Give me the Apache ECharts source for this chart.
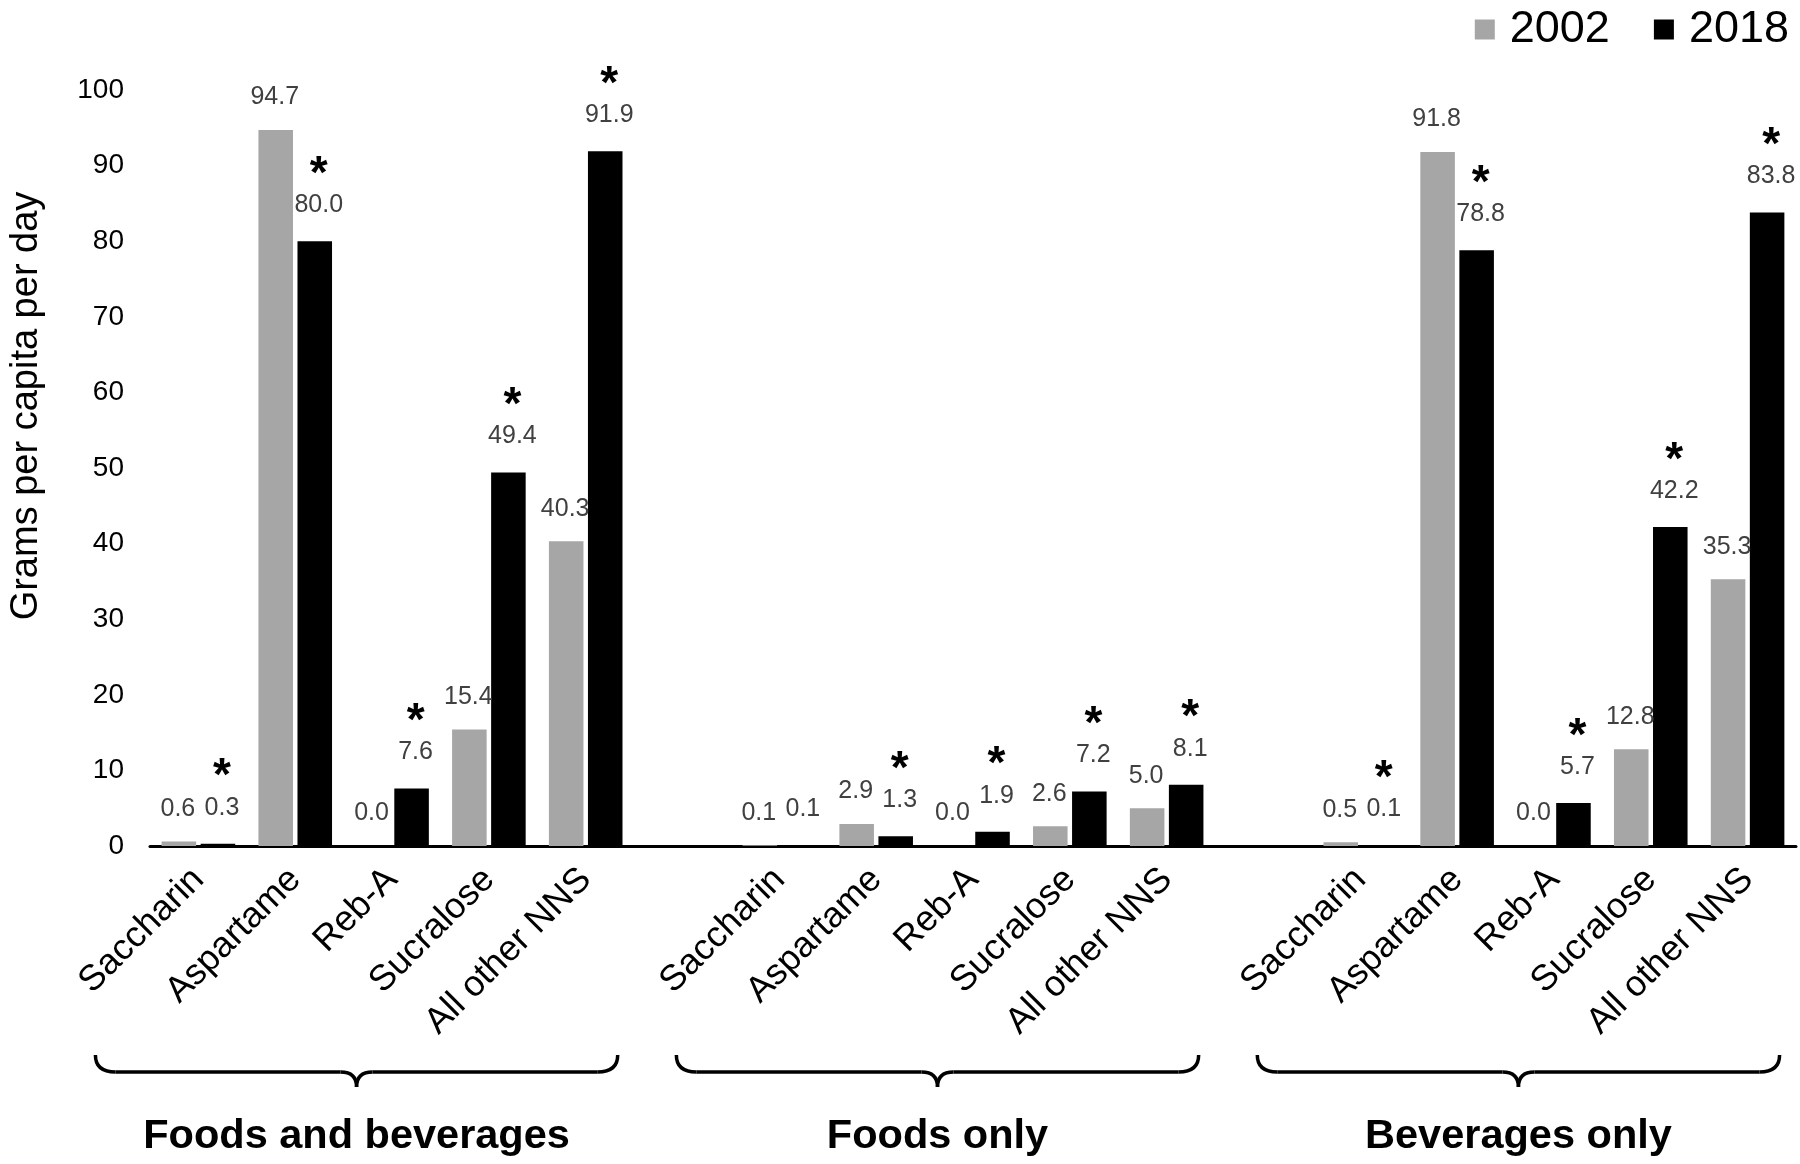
<!DOCTYPE html>
<html>
<head>
<meta charset="utf-8">
<script src="https://cdn.jsdelivr.net/npm/echarts@6/dist/echarts.min.js"></script>
<style>
html,body{margin:0;padding:0;background:#fff;}
#chart{width:1800px;height:1164px;}
</style>
</head>
<body>
<div id="chart"></div>
<script>
// ---- data ----
const sweeteners = ['Saccharin', 'Aspartame', 'Reb-A', 'Sucralose', 'All other NNS'];
const groupNames = ['Foods and beverages', 'Foods only', 'Beverages only'];
const seriesNames = ['2002', '2018'];

const foodsBev2002 = [0.6, 94.7, 0.0, 15.4, 40.3];
const foodsOnly2002 = [0.1, 2.9, 0.0, 2.6, 5.0];
const bevOnly2002 = [0.5, 91.8, 0.0, 12.8, 35.3];

const foodsBev2018 = [0.3, 80.0, 7.6, 49.4, 91.9];
const foodsOnly2018 = [0.1, 1.3, 1.9, 7.2, 8.1];
const bevOnly2018 = [0.1, 78.8, 5.7, 42.2, 83.8];

// significant change 2002 -> 2018 (asterisk)
const foodsBevSig = [true, true, true, true, true];
const foodsOnlySig = [false, true, true, true, true];
const bevOnlySig = [true, true, true, true, true];

const yMin = 0, yMax = 100, yStep = 10;

// ---- build ----
const v2002 = [foodsBev2002, foodsOnly2002, bevOnly2002];
const v2018 = [foodsBev2018, foodsOnly2018, bevOnly2018];
const sigs = [foodsBevSig, foodsOnlySig, bevOnlySig];

const categories = [], d2002 = [], d2018 = [], groupRanges = [];
for (let g = 0; g < groupNames.length; g++) {
  if (g > 0) { categories.push(''); d2002.push('-'); d2018.push('-'); }
  const start = categories.length;
  for (let i = 0; i < sweeteners.length; i++) {
    categories.push(sweeteners[i]);
    d2002.push(v2002[g][i]);
    d2018.push({ value: v2018[g][i], sig: sigs[g][i] });
  }
  groupRanges.push([start, categories.length - 1]);
}

const SANS = "'Liberation Sans',Arial,sans-serif";

const chart = echarts.init(document.getElementById('chart'), null, { renderer: 'canvas' });

const option = {
  backgroundColor: '#ffffff',
  animation: false,
  legend: {
    data: seriesNames,
    right: 6,
    top: 2,
    itemWidth: 20,
    itemHeight: 20,
    itemGap: 44,
    icon: 'rect',
    textStyle: { fontSize: 45, color: '#000', fontFamily: SANS, padding: [0, 0, 0, 10] }
  },
  grid: { left: 147, right: 4, top: 90, bottom: 318, containLabel: false },
  xAxis: {
    type: 'category',
    data: categories,
    axisLine: { show: true, lineStyle: { color: '#000', width: 3 } },
    axisTick: { show: false },
    axisLabel: {
      interval: 0,
      rotate: 45,
      margin: 28,
      fontSize: 36,
      color: '#000',
      fontFamily: SANS,
      padding: [50, 0, 0, 0]
    },
    splitLine: { show: false }
  },
  yAxis: {
    type: 'value',
    min: yMin,
    max: yMax,
    interval: yStep,
    name: 'Grams per capita per day',
    nameLocation: 'middle',
    nameGap: 104,
    nameTextStyle: { fontSize: 38, color: '#000', fontFamily: SANS, padding: [0, 0, 0, 124] },
    axisLine: { show: false },
    axisTick: { show: false },
    splitLine: { show: false },
    axisLabel: { fontSize: 28, color: '#000', fontFamily: SANS, margin: 26 }
  },
  series: [
    {
      name: '2002',
      type: 'bar',
      data: d2002,
      barGap: '13%',
      barCategoryGap: '24%',
      itemStyle: { color: '#A6A6A6' },
      label: {
        show: true,
        position: 'top',
        distance: 20,
        fontSize: 25,
        color: '#404040',
        fontFamily: SANS,
        offset: [-1, 0],
        formatter: p => Number(p.value).toFixed(1)
      }
    },
    {
      name: '2018',
      type: 'bar',
      data: d2018,
      barGap: '13%',
      barCategoryGap: '24%',
      itemStyle: { color: '#000000' },
      label: {
        show: true,
        position: 'top',
        distance: 20,
        offset: [4, 0],
        formatter: p => {
          const t = Number(p.value).toFixed(1);
          return p.data.sig ? '{s|*}\n{v|' + t + '}' : '{v|' + t + '}';
        },
        rich: {
          s: { fontSize: 46, fontWeight: 'bold', color: '#000', fontFamily: SANS, lineHeight: 34, padding: [0, 0, -6, 0] },
          v: { fontSize: 25, color: '#404040', fontFamily: SANS, lineHeight: 32 }
        }
      }
    }
  ]
};

chart.setOption(option);

// braces + group labels positioned from the axis scale
const graphics = [];
const yTop = 1055, yLine = 1072, yTip = 1087, yLabel = 1137;
const braceStyle = { stroke: '#000', lineWidth: 3.5, fill: null };
function curve(x1, y1, cx, cy, x2, y2) {
  return { type: 'bezierCurve', shape: { x1: x1, y1: y1, cpx1: cx, cpy1: cy, x2: x2, y2: y2 }, style: braceStyle, silent: true };
}
function seg(x1, y1, x2, y2) {
  return { type: 'line', shape: { x1: x1, y1: y1, x2: x2, y2: y2 }, style: braceStyle, silent: true };
}
groupRanges.forEach((r, g) => {
  const xa = chart.convertToPixel({ xAxisIndex: 0 }, r[0]);
  const xb = chart.convertToPixel({ xAxisIndex: 0 }, r[1]);
  const x0 = xa - 103, x1 = xb + 32, xm = (x0 + x1) / 2;
  graphics.push(curve(x0, yTop, x0, yLine, x0 + 20, yLine));
  graphics.push(seg(x0 + 20, yLine, xm - 16, yLine));
  graphics.push(curve(xm - 16, yLine, xm, yLine, xm, yTip));
  graphics.push(curve(xm, yTip, xm, yLine, xm + 16, yLine));
  graphics.push(seg(xm + 16, yLine, x1 - 20, yLine));
  graphics.push(curve(x1 - 20, yLine, x1, yLine, x1, yTop));
  graphics.push({
    type: 'text',
    x: xm,
    y: yLabel,
    silent: true,
    style: {
      text: groupNames[g],
      fontSize: 41.5,
      fontWeight: 'bold',
      fontFamily: SANS,
      fill: '#000',
      align: 'center',
      verticalAlign: 'middle'
    }
  });
});
chart.setOption({ graphic: graphics });
</script>
</body>
</html>
